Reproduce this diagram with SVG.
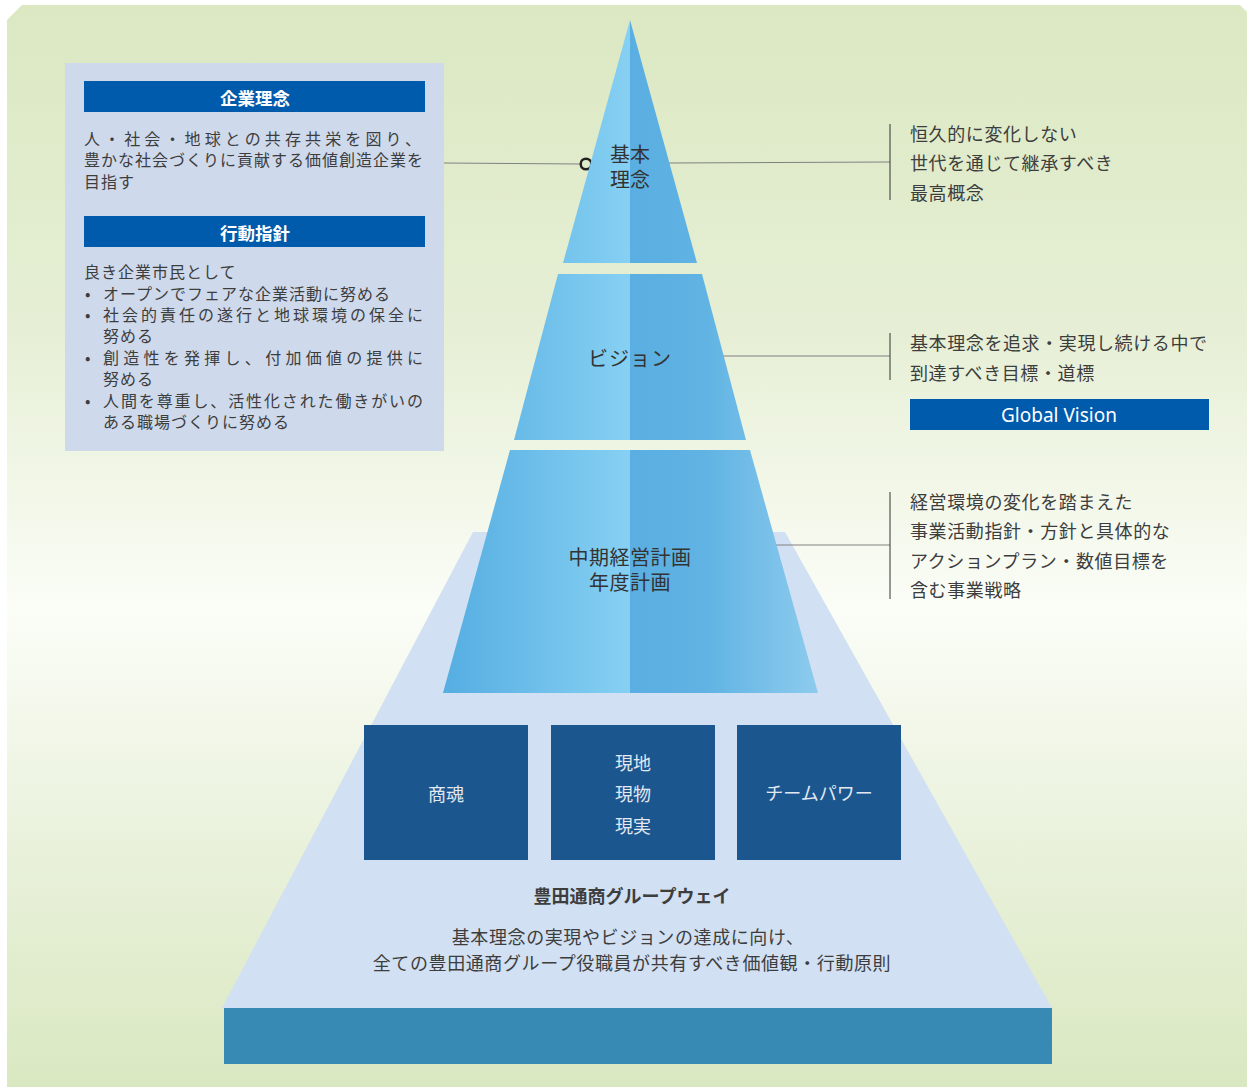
<svg xmlns="http://www.w3.org/2000/svg" width="1247" height="1087" viewBox="0 0 1247 1087">
<defs>
<linearGradient id="bg" x1="0" y1="5" x2="0" y2="1087" gradientUnits="userSpaceOnUse">
<stop offset="0" stop-color="#dbe8c2"/>
<stop offset="0.3" stop-color="#e6efd5"/>
<stop offset="0.56" stop-color="#fbfdf7"/>
<stop offset="0.78" stop-color="#e9f1db"/>
<stop offset="1" stop-color="#dae8c1"/>
</linearGradient>
<linearGradient id="gl" x1="443" y1="0" x2="630" y2="0" gradientUnits="userSpaceOnUse">
<stop offset="0" stop-color="#55ade1"/>
<stop offset="1" stop-color="#86d0f3"/>
</linearGradient>
<linearGradient id="gr" x1="630" y1="0" x2="818" y2="0" gradientUnits="userSpaceOnUse">
<stop offset="0" stop-color="#5aaee1"/>
<stop offset="0.4" stop-color="#60b3e3"/>
<stop offset="1" stop-color="#8dcbee"/>
</linearGradient>
<style>
.t{font-family:"Noto Sans CJK JP","Noto Sans",sans-serif;fill:#3d3d3d;dominant-baseline:central}
.lt{font-size:16px;letter-spacing:1px}
.rt{font-size:18px;letter-spacing:0.6px}
.pl{font-size:20px;text-anchor:middle;fill:#333}
.hd{font-size:17.5px;font-weight:bold;fill:#fff;text-anchor:middle}
.bx{font-size:18px;fill:#e2e9f1;text-anchor:middle}
.hdr{fill:#005bac}
.box{fill:#1c568f}
.ln{stroke:#808080;stroke-width:1;fill:none}
.vl{stroke:#333;stroke-width:1;fill:none}
</style>
</defs>
<path d="M7,20 L22,5 L1240,5 L1247,12 L1247,1087 L7,1087 Z" fill="url(#bg)"/>

<g id="base">
<polygon points="473,532 785,532 1052,1008 222,1008" fill="#d1e0f2"/>
<rect x="224" y="1008" width="828" height="56" fill="#368ab4"/>
</g>

<g id="connectors">
<line class="ln" x1="444" y1="163" x2="580" y2="164"/>
<circle cx="586" cy="164" r="5.3" fill="none" stroke="#222" stroke-width="2.5"/>
<line class="ln" x1="669" y1="163" x2="890" y2="162"/>
<line class="vl" x1="890" y1="124" x2="890" y2="200"/>
<line class="ln" x1="723" y1="356" x2="890" y2="356"/>
<line class="vl" x1="890" y1="333" x2="890" y2="380"/>
<line class="ln" x1="776" y1="545" x2="890" y2="545"/>
<line class="vl" x1="890" y1="492" x2="890" y2="599"/>
</g>

<g id="node-kihon">
<polygon points="630,20 630,263 563,263" fill="url(#gl)"/>
<polygon points="630,20 697,263 630,263" fill="url(#gr)"/>
<text class="t pl" x="630" y="153">基本</text>
<text class="t pl" x="630" y="178">理念</text>
</g>

<g id="node-vision">
<polygon points="558,274 630,274 630,440 514,440" fill="url(#gl)"/>
<polygon points="630,274 702,274 746,440 630,440" fill="url(#gr)"/>
<text class="t pl" x="630" y="357" letter-spacing="1">ビジョン</text>
</g>

<g id="node-plan">
<polygon points="510,450 630,450 630,693 443,693" fill="url(#gl)"/>
<polygon points="630,450 750,450 818,693 630,693" fill="url(#gr)"/>
<text class="t pl" x="630" y="556" letter-spacing="0.5">中期経営計画</text>
<text class="t pl" x="630" y="581" letter-spacing="0.5">年度計画</text>
</g>

<g id="node-left-panel">
<rect x="65" y="63" width="379" height="388" fill="#ced9ec"/>
<rect class="hdr" x="84" y="81" width="341" height="31"/>
<text class="t hd" x="255" y="97">企業理念</text>
<text class="t lt" x="84" y="138" textLength="338" lengthAdjust="spacing">人・社会・地球との共存共栄を図り、</text>
<text class="t lt" x="84" y="159">豊かな社会づくりに貢献する価値創造企業を</text>
<text class="t lt" x="84" y="181">目指す</text>
<rect class="hdr" x="84" y="216" width="341" height="31"/>
<text class="t hd" x="255" y="232">行動指針</text>
<text class="t lt" x="84" y="271">良き企業市民として</text>
<text class="t lt" x="85" y="293">•</text>
<text class="t lt" x="103" y="293">オープンでフェアな企業活動に努める</text>
<text class="t lt" x="85" y="314">•</text>
<text class="t lt" x="103" y="314" textLength="321" lengthAdjust="spacing">社会的責任の遂行と地球環境の保全に</text>
<text class="t lt" x="103" y="335">努める</text>
<text class="t lt" x="85" y="357">•</text>
<text class="t lt" x="103" y="357" textLength="321" lengthAdjust="spacing">創造性を発揮し、付加価値の提供に</text>
<text class="t lt" x="103" y="378">努める</text>
<text class="t lt" x="85" y="400">•</text>
<text class="t lt" x="103" y="400" textLength="321" lengthAdjust="spacing">人間を尊重し、活性化された働きがいの</text>
<text class="t lt" x="103" y="421">ある職場づくりに努める</text>
</g>

<g id="note-kihon">
<text class="t rt" x="910" y="133">恒久的に変化しない</text>
<text class="t rt" x="910" y="162">世代を通じて継承すべき</text>
<text class="t rt" x="910" y="192">最高概念</text>
</g>

<g id="note-vision">
<text class="t rt" x="910" y="342">基本理念を追求・実現し続ける中で</text>
<text class="t rt" x="910" y="372">到達すべき目標・道標</text>
<rect class="hdr" x="910" y="399" width="299" height="31"/>
<text x="1059" y="415" font-family="'Noto Sans','Open Sans',sans-serif" font-size="19" fill="#fff" text-anchor="middle" dominant-baseline="central">Global Vision</text>
</g>

<g id="note-plan">
<text class="t rt" x="910" y="501">経営環境の変化を踏まえた</text>
<text class="t rt" x="910" y="530">事業活動指針・方針と具体的な</text>
<text class="t rt" x="910" y="560">アクションプラン・数値目標を</text>
<text class="t rt" x="910" y="589">含む事業戦略</text>
</g>

<g id="node-shokon">
<rect class="box" x="364" y="725" width="164" height="135"/>
<text class="t bx" x="446" y="793">商魂</text>
</g>
<g id="node-genchi">
<rect class="box" x="551" y="725" width="164" height="135"/>
<text class="t bx" x="633" y="762">現地</text>
<text class="t bx" x="633" y="793">現物</text>
<text class="t bx" x="633" y="825">現実</text>
</g>
<g id="node-team">
<rect class="box" x="737" y="725" width="164" height="135"/>
<text class="t bx" x="819" y="792">チームパワー</text>
</g>

<g id="node-way">
<text class="t" x="632" y="895" font-size="18" font-weight="bold" text-anchor="middle" fill="#2a2a2a">豊田通商グループウェイ</text>
<text class="t rt" x="628" y="936" text-anchor="middle" letter-spacing="0.2">基本理念の実現やビジョンの達成に向け、</text>
<text class="t rt" x="632" y="962" text-anchor="middle">全ての豊田通商グループ役職員が共有すべき価値観・行動原則</text>
</g>
</svg>
